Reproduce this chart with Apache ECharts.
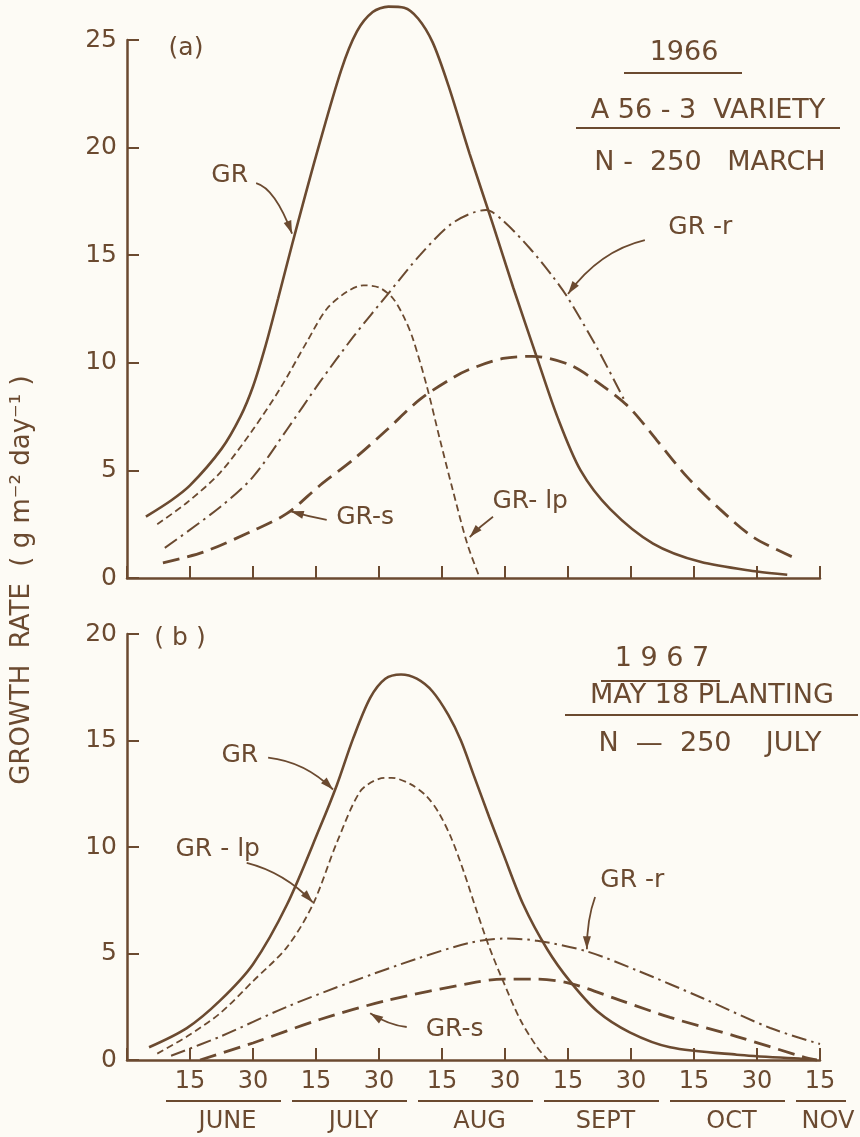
<!DOCTYPE html>
<html>
<head>
<meta charset="utf-8">
<script src="https://cdn.jsdelivr.net/npm/echarts@6/dist/echarts.min.js"></script>
<style>
  html, body { margin: 0; padding: 0; background: #fdfbf5; }
  #chart { width: 860px; height: 1137px; }
</style>
</head>
<body>
<div id="chart"></div>
<script>
  // x is counted in half-month steps: 0 = June 15, 1 = June 30, 2 = July 15 ... 10 = Nov 15
  var xTickLabels = ['15', '30', '15', '30', '15', '30', '15', '30', '15', '30', '15'];
  var months = ['JUNE', 'JULY', 'AUG', 'SEPT', 'OCT', 'NOV'];

  // (a) 1966, A56-3 variety
  var grA = [[-0.7, 2.85], [-0.3, 3.6], [0, 4.3], [0.5, 6.0], [0.8, 7.5], [1.0, 8.9], [1.2, 10.8], [1.4, 13.0],
    [1.63, 15.6], [2.0, 19.6], [2.4, 23.6], [2.65, 25.4], [2.9, 26.3], [3.15, 26.55], [3.4, 26.5], [3.62, 26.0],
    [3.85, 24.9], [4.1, 22.9], [4.44, 19.7], [4.8, 16.5], [5.13, 13.5], [5.5, 10.3], [5.83, 7.5], [6.2, 5.0],
    [6.67, 3.2], [7.35, 1.6], [8.1, 0.75], [9.0, 0.3], [9.48, 0.15]];
  var grLpA = [[-0.52, 2.5], [-0.05, 3.5], [0.48, 4.9], [1.0, 6.9], [1.43, 8.8], [1.86, 11.0], [2.17, 12.5],
    [2.49, 13.3], [2.75, 13.6], [3.0, 13.5], [3.22, 13.0], [3.4, 12.1], [3.54, 11.1], [3.76, 8.9], [3.97, 6.4],
    [4.17, 4.1], [4.4, 1.6], [4.6, 0]];
  var grRA = [[-0.4, 1.4], [0.48, 3.3], [1.0, 4.7], [1.54, 6.9], [2.06, 9.1], [2.59, 11.2], [3.17, 13.3],
    [3.65, 15.0], [4.17, 16.5], [4.7, 17.1], [4.97, 16.6], [5.4, 15.3], [5.76, 14.0], [5.98, 13.1],
    [6.46, 10.7], [6.94, 8.0]];
  var grSA = [[-0.43, 0.7], [0.21, 1.2], [1.0, 2.2], [1.54, 3.0], [2.06, 4.3], [2.59, 5.5], [3.13, 6.9],
    [3.65, 8.3], [4.17, 9.3], [4.44, 9.7], [4.97, 10.2], [5.44, 10.3], [6.03, 9.9], [6.56, 8.9], [6.98, 7.9],
    [7.41, 6.4], [7.89, 4.7], [8.41, 3.2], [8.94, 1.9], [9.6, 0.93]];

  // (b) 1967, May 18 planting
  var grB = [[-0.65, 0.6], [-0.05, 1.5], [0.48, 2.8], [1.0, 4.5], [1.54, 7.3], [2.06, 10.9], [2.33, 12.9],
    [2.59, 15.1], [2.86, 17.0], [3.1, 17.9], [3.35, 18.1], [3.6, 17.9], [3.85, 17.3], [4.1, 16.2], [4.3, 15.0],
    [4.5, 13.4], [4.75, 11.4], [4.97, 9.7], [5.29, 7.3], [5.67, 5.2], [6.03, 3.7], [6.46, 2.3], [6.98, 1.3],
    [7.62, 0.6], [8.68, 0.25], [9.73, 0.05], [9.95, 0]];
  var grLpB = [[-0.52, 0.3], [-0.05, 1.1], [0.48, 2.2], [1.0, 3.7], [1.54, 5.3], [1.95, 7.3], [2.33, 10.2],
    [2.7, 12.6], [3.0, 13.2], [3.2, 13.25], [3.5, 12.95], [3.75, 12.4], [3.95, 11.6], [4.15, 10.4], [4.35, 8.8],
    [4.55, 7.0], [4.75, 5.3], [4.97, 3.7], [5.24, 1.9], [5.51, 0.6], [5.68, 0]];
  var grRB = [[-0.3, 0.2], [0.48, 1.1], [1.54, 2.5], [2.59, 3.7], [3.65, 4.8], [4.44, 5.5], [4.97, 5.7],
    [5.51, 5.6], [6.3, 5.1], [7.1, 4.2], [8.14, 2.9], [9.21, 1.5], [10.0, 0.75]];
  var grSB = [[0.16, 0], [1.0, 0.8], [2.06, 1.9], [3.13, 2.8], [4.44, 3.6], [4.97, 3.8], [5.51, 3.8],
    [6.03, 3.6], [6.83, 2.8], [7.62, 2.0], [8.68, 1.1], [9.73, 0.15], [9.95, 0]];

  var brown = '#6b4a30';
  var font = 'DejaVu Sans';
  var myChart = echarts.init(document.getElementById('chart'));

  function xAxis(i, showLabel) {
    return {
      gridIndex: i, type: 'value', min: -1, max: 10, interval: 1,
      axisLine: { onZero: false, lineStyle: { color: brown, width: 2.5 } },
      axisTick: { inside: true, length: 12, lineStyle: { color: brown, width: 2 } },
      splitLine: { show: false },
      axisLabel: {
        show: showLabel, color: brown, fontSize: 24, fontFamily: font, margin: 10,
        formatter: function (v) {
          var k = Math.round(v);
          return k < 0 ? '' : xTickLabels[k];
        }
      }
    };
  }
  function yAxis(i, max) {
    return {
      gridIndex: i, type: 'value', min: 0, max: max, interval: 5,
      axisLine: { show: true, onZero: false, lineStyle: { color: brown, width: 2.5 } },
      axisTick: { show: true, inside: true, length: 12, lineStyle: { color: brown, width: 2 } },
      splitLine: { show: false },
      axisLabel: { color: brown, fontSize: 25, fontFamily: font, margin: 10 }
    };
  }
  function line(name, data, i, dash, width) {
    return {
      name: name, type: 'line', xAxisIndex: i, yAxisIndex: i, data: data,
      smooth: 0.3, symbol: 'none', clip: false, animation: false,
      lineStyle: { color: brown, width: width, type: dash }
    };
  }

  var shortDash = [7, 4];
  var dashDot = [15, 5, 2.5, 5];
  var longDash = [17, 8];

  myChart.setOption({
    backgroundColor: '#fdfbf5',
    animation: false,
    grid: [
      { left: 127, top: 40, width: 693, height: 538 },
      { left: 127, top: 634, width: 693, height: 426 }
    ],
    xAxis: [xAxis(0, false), xAxis(1, true)],
    yAxis: [yAxis(0, 25), yAxis(1, 20)],
    series: [
      line('GR', grA, 0, 'solid', 2.6),
      line('GR-lp', grLpA, 0, shortDash, 1.8),
      line('GR-r', grRA, 0, dashDot, 2),
      line('GR-s', grSA, 0, longDash, 2.8),
      line('GR', grB, 1, 'solid', 2.6),
      line('GR-lp', grLpB, 1, shortDash, 1.8),
      line('GR-r', grRB, 1, dashDot, 2),
      line('GR-s', grSB, 1, longDash, 2.8)
    ]
  });

  // labels with arrows, anchored in data units of each panel
  var notes = [
    { g: 0, text: 'GR', at: [0.63, 18.7], from: [1.05, 18.35], ctrl: [1.35, 18.1], to: [1.62, 16.0] },
    { g: 0, text: 'GR -r', at: [8.1, 16.3], from: [7.22, 15.7], ctrl: [6.5, 15.2], to: [6.0, 13.2] },
    { g: 0, text: 'GR-s', at: [2.78, 2.8], from: [2.17, 2.7], ctrl: [1.9, 2.85], to: [1.6, 3.1] },
    { g: 0, text: 'GR- lp', at: [5.4, 3.55], from: [4.81, 2.85], ctrl: [4.6, 2.4], to: [4.44, 1.9] },
    { g: 1, text: 'GR', at: [0.79, 14.3], from: [1.24, 14.2], ctrl: [1.83, 14.0], to: [2.27, 12.7] },
    { g: 1, text: 'GR - lp', at: [0.44, 9.86], from: [0.9, 9.25], ctrl: [1.5, 8.8], to: [1.95, 7.4] },
    { g: 1, text: 'GR-s', at: [4.2, 1.41], from: [3.44, 1.55], ctrl: [3.15, 1.65], to: [2.86, 2.2] },
    { g: 1, text: 'GR -r', at: [7.02, 8.45], from: [6.43, 7.65], ctrl: [6.3, 6.6], to: [6.3, 5.2] }
  ];

  var els = [];
  function txt(s, x, y, size, align) {
    els.push({
      type: 'text', x: x, y: y, silent: true,
      style: { text: s, fill: brown, font: size + 'px "' + font + '"', align: align || 'center', verticalAlign: 'middle' }
    });
  }
  function hline(x1, x2, y) {
    els.push({ type: 'line', silent: true, shape: { x1: x1, y1: y, x2: x2, y2: y }, style: { stroke: brown, lineWidth: 2.2 } });
  }

  notes.forEach(function (n) {
    var px = function (p) { return myChart.convertToPixel({ gridIndex: n.g }, p); };
    var a = px(n.at), f = px(n.from), c = px(n.ctrl), t = px(n.to);
    txt(n.text, a[0], a[1], 25);
    els.push({
      type: 'bezierCurve', silent: true,
      shape: { x1: f[0], y1: f[1], cpx1: c[0], cpy1: c[1], x2: t[0], y2: t[1] },
      style: { stroke: brown, lineWidth: 1.8, fill: null }
    });
    var dx = t[0] - c[0], dy = t[1] - c[1], len = Math.sqrt(dx * dx + dy * dy) || 1;
    dx /= len; dy /= len;
    var L = 13, W = 4;
    els.push({
      type: 'polygon', silent: true,
      shape: { points: [[t[0], t[1]], [t[0] - dx * L - dy * W, t[1] - dy * L + dx * W], [t[0] - dx * L + dy * W, t[1] - dy * L - dx * W]] },
      style: { fill: brown }
    });
  });

  // panel marks and titles
  txt('(a)', 186, 48, 25);
  txt('( b )', 180, 638, 25);
  txt('1966', 684, 53, 27);
  hline(624, 742, 73);
  txt('A 56 - 3  VARIETY', 708, 111, 27);
  hline(576, 840, 128);
  txt('N -  250   MARCH', 710, 163, 27);
  txt('1 9 6 7', 662, 659, 27);
  hline(601, 720, 681);
  txt('MAY 18 PLANTING', 712, 696, 27);
  hline(565, 858, 715);
  txt('N  —  250    JULY', 710, 744, 27);

  // month names under the half-month tick labels
  months.forEach(function (m, i) {
    var a = myChart.convertToPixel({ gridIndex: 1 }, [2 * i, 0]);
    var last = i === months.length - 1;
    var b = myChart.convertToPixel({ gridIndex: 1 }, [last ? 2 * i : 2 * i + 1, 0]);
    hline(a[0] - 24, b[0] + (last ? 26 : 28), 1101);
    txt(m, (a[0] + b[0]) / 2 + (last ? 8 : 6), 1122, 24);
  });

  // y axis title
  els.push({
    type: 'text', x: 22, y: 580, rotation: Math.PI / 2, silent: true,
    style: { text: 'GROWTH  RATE  ( g m⁻² day⁻¹ )', fill: brown, font: '26px "' + font + '"', align: 'center', verticalAlign: 'middle' }
  });

  myChart.setOption({ graphic: els });
</script>
</body>
</html>
